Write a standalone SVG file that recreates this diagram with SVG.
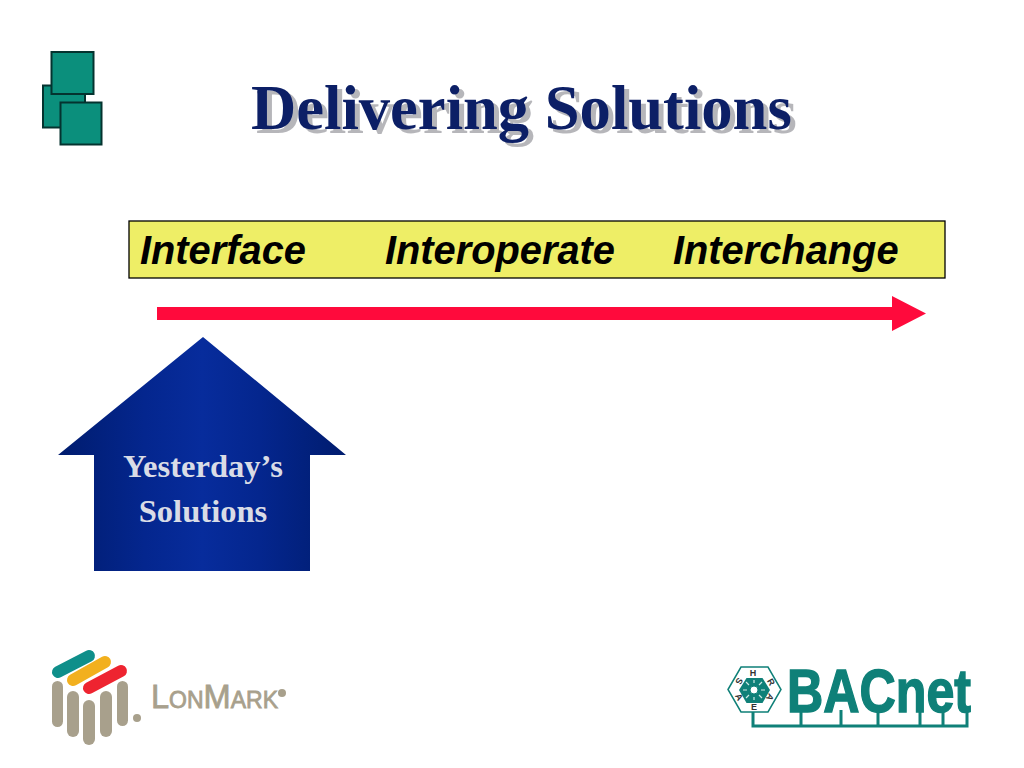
<svg xmlns="http://www.w3.org/2000/svg" width="1024" height="768" viewBox="0 0 1024 768">
<defs>
<linearGradient id="house" gradientUnits="userSpaceOnUse" x1="58" y1="0" x2="346" y2="0">
<stop offset="0" stop-color="#001c6e"/><stop offset="0.3" stop-color="#04268e"/><stop offset="0.5" stop-color="#072c9c"/><stop offset="0.7" stop-color="#04268e"/><stop offset="1" stop-color="#001c6e"/>
</linearGradient>
<filter id="shadow" x="-5%" y="-20%" width="110%" height="140%" color-interpolation-filters="sRGB">
<feDropShadow dx="5" dy="4" stdDeviation="0.400" flood-color="#b6b6ba"/>
</filter>
</defs>
<style>
.sq{fill:#0b8f7c;stroke:#04332f;stroke-width:2}
.title{font:bold 62.600px "Liberation Serif",serif}
.band{font:italic bold 39.800px "Liberation Sans",sans-serif;fill:#000}
.house{font:bold 32.600px "Liberation Serif",serif;fill:#d9dce6;text-anchor:middle}
.bar{fill:#a8a08c}
.tl{fill:#0f8078}
</style>
<rect width="1024" height="768" fill="#fff"/>
<g id="corner-squares">
<rect class="sq" x="43" y="85.500" width="42" height="42"/>
<rect class="sq" x="51.500" y="52" width="42" height="42"/>
<rect class="sq" x="60.500" y="102.500" width="41" height="42"/>
</g>
<g id="title">
<text class="title" x="251" y="129" fill="#0c1f66" filter="url(#shadow)">Delivering Solutions</text>
</g>
<g id="band">
<rect x="129" y="221" width="816" height="57" fill="#eeee66" stroke="#000" stroke-width="1.300"/>
<text class="band" x="140" y="264">Interface</text>
<text class="band" x="385" y="264">Interoperate</text>
<text class="band" x="673" y="264">Interchange</text>
</g>
<g id="connectors">
<polygon points="157,307 892,307 892,296 926,313.500 892,331 892,320 157,320" fill="#ff0a3c"/>
</g>
<g id="yesterday">
<polygon points="203,337 346,455 310,455 310,571 94,571 94,455 58,455" fill="url(#house)"/>
<text class="house" x="203" y="477">Yesterday’s</text>
<text class="house" x="203" y="522">Solutions</text>
</g>
<g id="lonmark-logo">
<g stroke-linecap="round" fill="none" stroke-width="12">
<path d="M58,672 L89,656" stroke="#0f8f8a"/>
<path d="M73,680 L105,662" stroke="#f2b01e"/>
<path d="M89,688 L121,671" stroke="#ee2430"/>
</g>
<rect class="bar" x="52" y="681" width="11" height="46" rx="5.500"/>
<rect class="bar" x="67" y="691" width="12" height="46" rx="6"/>
<rect class="bar" x="83" y="700" width="12" height="45" rx="6"/>
<rect class="bar" x="100" y="691" width="12" height="46" rx="6"/>
<rect class="bar" x="117" y="681" width="11" height="45" rx="5.500"/>
<circle cx="137" cy="718" r="4" fill="#a8a08c"/>
<text x="151" y="708" font-family="'Liberation Sans',sans-serif" font-size="34" font-variant="small-caps" fill="#a8a08c" stroke="#a8a08c" stroke-width="0.800" textLength="127" lengthAdjust="spacingAndGlyphs">LonMark</text>
<circle cx="282" cy="693" r="4" fill="#a8a08c"/>
</g>
<g id="bacnet-logo">
<path d="M753,710 V726 H967 V710 M801,710 V726 M841,710 V726 M878,710 V726 M920,710 V726 M943,710 V726" fill="none" stroke="#0f8078" stroke-width="3"/>
<polygon points="728,689.500 741,667 768,667 781,689.500 768,712 741,712" fill="#fff" stroke="#0f8078" stroke-width="1.500"/>
<polygon points="739,690 746.500,678 762.500,678 770,690 762.500,703 746.500,703" fill="#0f8078"/>
<circle cx="754" cy="690" r="4" fill="#fff" stroke="#0f8078" stroke-width="1"/>
<path d="M754,683 V680 M761,690 H765 M747,690 H743 M754,697 V700 M749,685 L746,682 M759,685 L762,682 M749,695 L746,698 M759,695 L762,698" stroke="#cfe8e4" stroke-width="1.200"/>
<g font-family="'Liberation Sans',sans-serif" font-size="9" font-weight="bold" fill="#333" text-anchor="middle">
<text x="753" y="676">H</text>
<text x="771" y="685" transform="rotate(60 771 682)">R</text>
<text x="770" y="700" transform="rotate(120 770 697)">A</text>
<text x="754" y="710">E</text>
<text x="739" y="700" transform="rotate(60 739 697)">A</text>
<text x="739" y="684" transform="rotate(120 739 681)">S</text>
</g>
<text class="tl" x="787" y="712" font-family="'Liberation Sans',sans-serif" font-size="62" font-weight="bold" stroke="#0f8078" stroke-width="1.500" textLength="184" lengthAdjust="spacingAndGlyphs">BACnet</text>
</g>
</svg>
